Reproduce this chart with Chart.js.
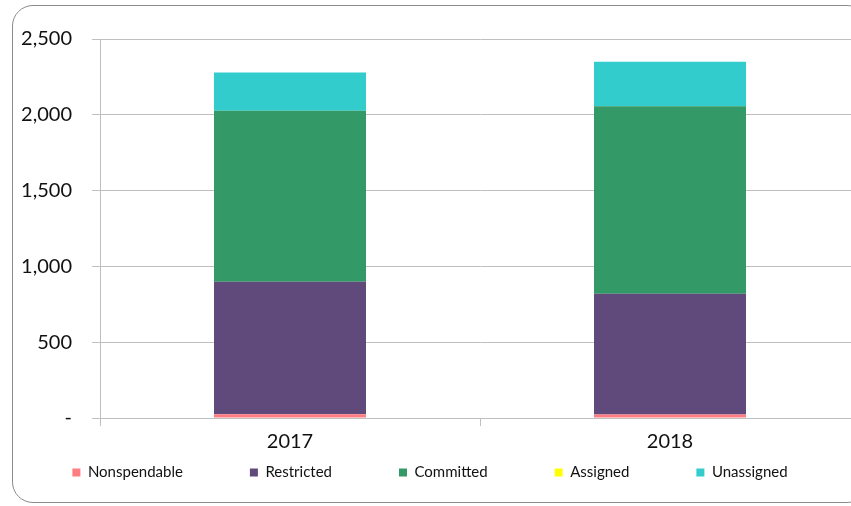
<!DOCTYPE html>
<html>
<head>
<meta charset="utf-8">
<script src="https://cdn.jsdelivr.net/npm/chart.js@4"></script>
<style>
    html, body { margin: 0; padding: 0; background: #fff; overflow: hidden; }
    .wrap { position: relative; width: 851px; height: 506px; overflow: hidden; }
    .frame {
        position: absolute; left: 12px; top: 5px; width: 856px; height: 498px;
        border: 1px solid #8c8c8c; border-radius: 21px; box-sizing: border-box;
    }
    canvas { position: absolute; left: 0; top: 0; }
</style>
</head>
<body>
<div class="wrap">
    <div class="frame"></div>
    <canvas id="chart" width="870" height="506"></canvas>
</div>
<script>
const years = ['2017', '2018'];
const nonspendable = [25, 23];
const restricted = [873, 796];
const committed = [1128, 1238];
const assigned = [0, 0];
const unassigned = [253, 293];
const yTicks = [0, 500, 1000, 1500, 2000, 2500];

const gridGray = '#bfbfbf';
const font = 'Lato, "Open Sans", sans-serif';

// legend spacing is wide horizontally, so pin its height and row position by hand
const legendPlace = {
    id: 'legendPlace',
    afterInit(chart) {
        const lg = chart.legend;
        const fit = lg.fit;
        lg.fit = function () {
            fit.call(this);
            this.height = 48;
        };
    },
    afterLayout(chart) {
        const lg = chart.legend;
        lg.top = 465 - lg.options.labels.padding;
        lg.bottom = chart.height;
    }
};

document.addEventListener("DOMContentLoaded", () => {
    const ctx = document.getElementById('chart').getContext('2d');
    new Chart(ctx, {
        type: 'bar',
        data: {
            labels: years,
            datasets: [
                { label: 'Nonspendable', data: nonspendable, backgroundColor: '#ff7c80' },
                { label: 'Restricted', data: restricted, backgroundColor: '#604a7b' },
                { label: 'Committed', data: committed, backgroundColor: '#339966' },
                { label: 'Assigned', data: assigned, backgroundColor: '#ffff00' },
                { label: 'Unassigned', data: unassigned, backgroundColor: '#33cccc' }
            ]
        },
        options: {
            responsive: false,
            animation: false,
            datasets: {
                bar: { categoryPercentage: 1, barPercentage: 0.4, borderWidth: 0 }
            },
            layout: { padding: { top: 39, right: 10, bottom: 0, left: 0 } },
            plugins: {
                tooltip: { enabled: false },
                legend: {
                    position: 'bottom',
                    labels: {
                        boxWidth: 8,
                        boxHeight: 8,
                        padding: 67,
                        color: '#111',
                        font: { family: font, size: 15 }
                    }
                }
            },
            scales: {
                x: {
                    stacked: true,
                    afterFit(scale) { scale.height = 40; },
                    grid: {
                        offset: true,
                        drawOnChartArea: false,
                        drawTicks: true,
                        tickLength: 8,
                        color: gridGray
                    },
                    border: { display: true, color: gridGray },
                    ticks: {
                        padding: 4,
                        color: '#111',
                        font: { family: font, size: 20 }
                    }
                },
                y: {
                    stacked: true,
                    min: 0,
                    max: 2500,
                    afterFit(scale) { scale.width = 100; },
                    afterBuildTicks(scale) {
                        scale.ticks = yTicks.map(v => ({ value: v }));
                    },
                    grid: {
                        color: gridGray,
                        tickLength: 8
                    },
                    border: { display: true, color: gridGray },
                    ticks: {
                        padding: 20,
                        color: '#111',
                        font: { family: font, size: 20 },
                        callback: (v) => v === 0 ? '-' : v.toLocaleString('en-US')
                    }
                }
            }
        },
        plugins: [legendPlace]
    });
});
</script>
</body>
</html>
